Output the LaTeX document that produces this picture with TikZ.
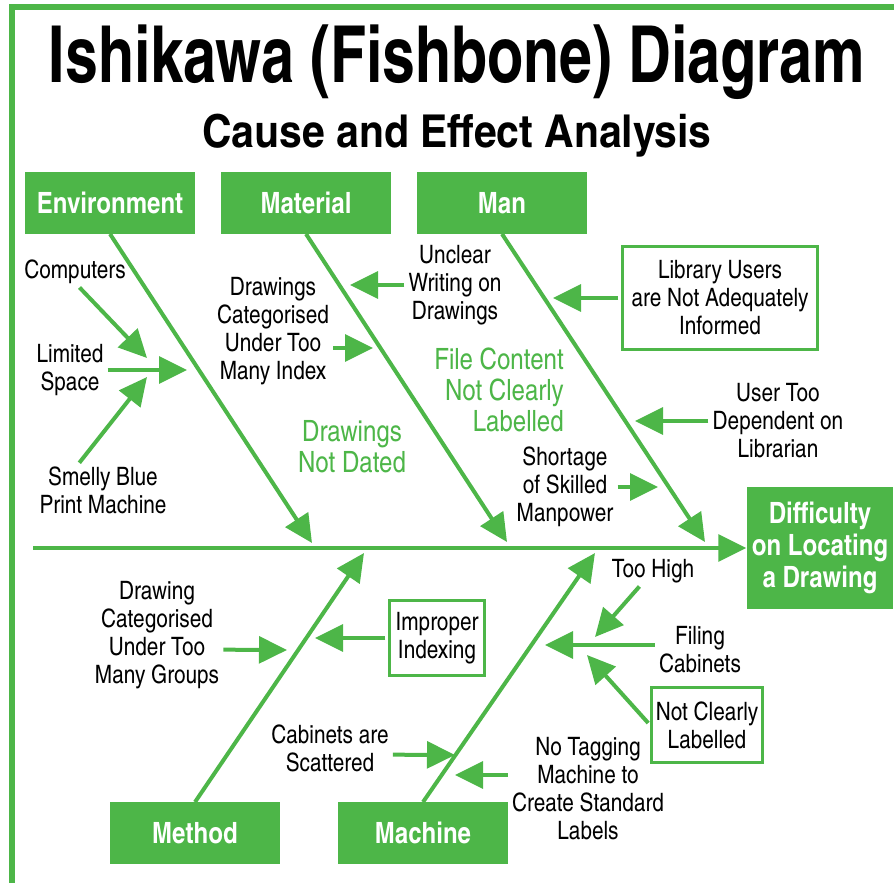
\documentclass[tikz,border=0pt]{standalone}
\usepackage{fontspec}
\setmainfont{texgyreheroscn}[Extension=.otf,UprightFont=*-regular,BoldFont=*-bold]
\usetikzlibrary{arrows.meta}
\definecolor{fishgreen}{RGB}{77,182,72}

\begin{document}
\begin{tikzpicture}[x=0.75pt,y=-0.75pt,
  catbox/.style={fill=fishgreen, text=white, font=\bfseries\fontsize{22}{24}\selectfont, minimum width=128pt, minimum height=46pt, inner sep=0pt},
  cause/.style={align=center, font=\fontsize{19}{21}\selectfont, inner sep=1pt},
  causebox/.style={cause, draw=fishgreen, line width=2.5pt, inner sep=0pt},
  note/.style={align=center, text=fishgreen, font=\fontsize{22}{23}\selectfont},
  bone/.style={draw=fishgreen, line width=3pt, -{Triangle[length=21pt,width=20pt]}},
  twig/.style={draw=fishgreen, line width=3pt, shorten <=2pt, -{Triangle[length=21pt,width=20pt]}}]
  \useasboundingbox (0,0) rectangle (894,883);
  \draw[fishgreen, line width=4.5pt] (12,883) -- (12,7) -- (894,7); % frame

  \node[anchor=base, font=\bfseries\fontsize{59}{60}\selectfont] (title) at (457,82) {\scalebox{0.915}[1]{Ishikawa (Fishbone) Diagram}};
  \node[anchor=base, font=\bfseries\fontsize{34}{36}\selectfont] (subtitle) at (457,147) {\scalebox{1.1}[1]{Cause and Effect Analysis}};

  % categories and effect
  \node[catbox] (env) at (110,203) {Environment};
  \node[catbox] (mat) at (306,203) {Material};
  \node[catbox] (man) at (502,203) {Man};
  \node[catbox] (meth) at (195,833) {Method};
  \node[catbox] (mach) at (423,833) {Machine};
  \node[catbox, align=center, minimum width=110pt, minimum height=91pt, font=\bfseries\fontsize{22}{24}\selectfont] (effect) at (820,548) {Difficulty\\on Locating\\a Drawing};

  % spine and bones
  \coordinate (tail) at (33,548);
  \coordinate (envtip) at (312,543);
  \coordinate (mattip) at (507,542);
  \coordinate (mantip) at (705,542);
  \coordinate (methtip) at (364,553);
  \coordinate (machtip) at (595,553);
  \draw[bone] (tail) -- (effect.west);
  \draw[bone] (env.south) -- (envtip);
  \draw[bone] (mat.south) -- (mattip);
  \draw[bone] (man.south) -- (mantip);
  \draw[bone] (meth.north) -- (methtip);
  \draw[bone] (mach.north) -- (machtip);

  % environment
  \node[cause] (comp) at (75,272) {Computers};
  \node[cause] (space) at (70,370) {Limited\\Space};
  \node[cause] (smelly) at (103,490) {Smelly Blue\\Print Machine};
  \coordinate (comptip) at (147,358);
  \coordinate (spacetip) at (187,370);
  \coordinate (smellytip) at (147,377);
  \draw[twig] ([xshift=2pt]comp.south) -- (comptip);
  \draw[twig] (space) -- (spacetip);
  \draw[twig] ([xshift=-19pt]smelly.north) -- (smellytip);

  % material
  \node[cause] (drcat) at (273,331) {Drawings\\Categorised\\Under Too\\Many Index};
  \node[cause] (unclear) at (455,285) {Unclear\\Writing on\\Drawings};
  \node[note] (notdated) at (352,447) {Drawings\\Not Dated};
  \coordinate (drcattip) at (373,348);
  \coordinate (uncleartip) at (350,285);
  \draw[twig] ([yshift=-12.75pt]drcat.east) -- (drcattip);
  \draw[twig] (unclear.west) -- (uncleartip);

  % man
  \node[note, align=right] (filecont) at (499,390) {File Content\\Not Clearly\\Labelled};
  \node[causebox, minimum width=146pt, minimum height=77pt] (libusers) at (720,298) {Library Users\\are Not Adequately\\Informed};
  \node[cause] (usertoo) at (778,421) {User Too\\Dependent on\\Librarian};
  \node[cause] (shortage) at (565,487) {Shortage\\of Skilled\\Manpower};
  \coordinate (libtip) at (553,298);
  \coordinate (usertip) at (635,421);
  \coordinate (shorttip) at (658,487);
  \draw[twig] (libusers.west) -- (libtip);
  \draw[twig] (usertoo.west) -- (usertip);
  \draw[twig] (shortage.east) -- (shorttip);

  % method
  \node[cause] (drgroups) at (157,635) {Drawing\\Categorised\\Under Too\\Many Groups};
  \node[causebox, minimum width=71pt, minimum height=56pt] (improper) at (437,638) {Improper\\Indexing};
  \node[cause] (scattered) at (330,748) {Cabinets are\\Scattered};
  \coordinate (groupstip) at (287,650);
  \coordinate (impropertip) at (315,638);
  \coordinate (scatteredtip) at (455,755);
  \draw[twig] ([yshift=-11pt]drgroups.east) -- (groupstip);
  \draw[twig] (improper.west) -- (impropertip);
  \draw[twig] ([yshift=-5pt]scattered.east) -- (scatteredtip);

  % machine
  \node[cause] (toohigh) at (653,571) {Too High};
  \node[cause] (filing) at (700,650) {Filing\\Cabinets};
  \node[causebox, minimum width=83pt, minimum height=56pt] (notclear) at (707,725) {Not Clearly\\Labelled};
  \node[cause] (notag) at (588,789) {No Tagging\\Machine to\\Create Standard\\Labels};
  \coordinate (hightip) at (595,637);
  \coordinate (filingtip) at (545,645);
  \coordinate (notcleartip) at (587,655);
  \coordinate (notagtip) at (455,775);
  \draw[twig] (toohigh) -- (hightip);
  \draw[twig] ([yshift=3.75pt]filing.west) -- (filingtip);
  \draw[twig] (notclear.west) -- (notcleartip);
  \draw[twig] ([yshift=10.5pt]notag.west) -- (notagtip);

\end{tikzpicture}
\end{document}
